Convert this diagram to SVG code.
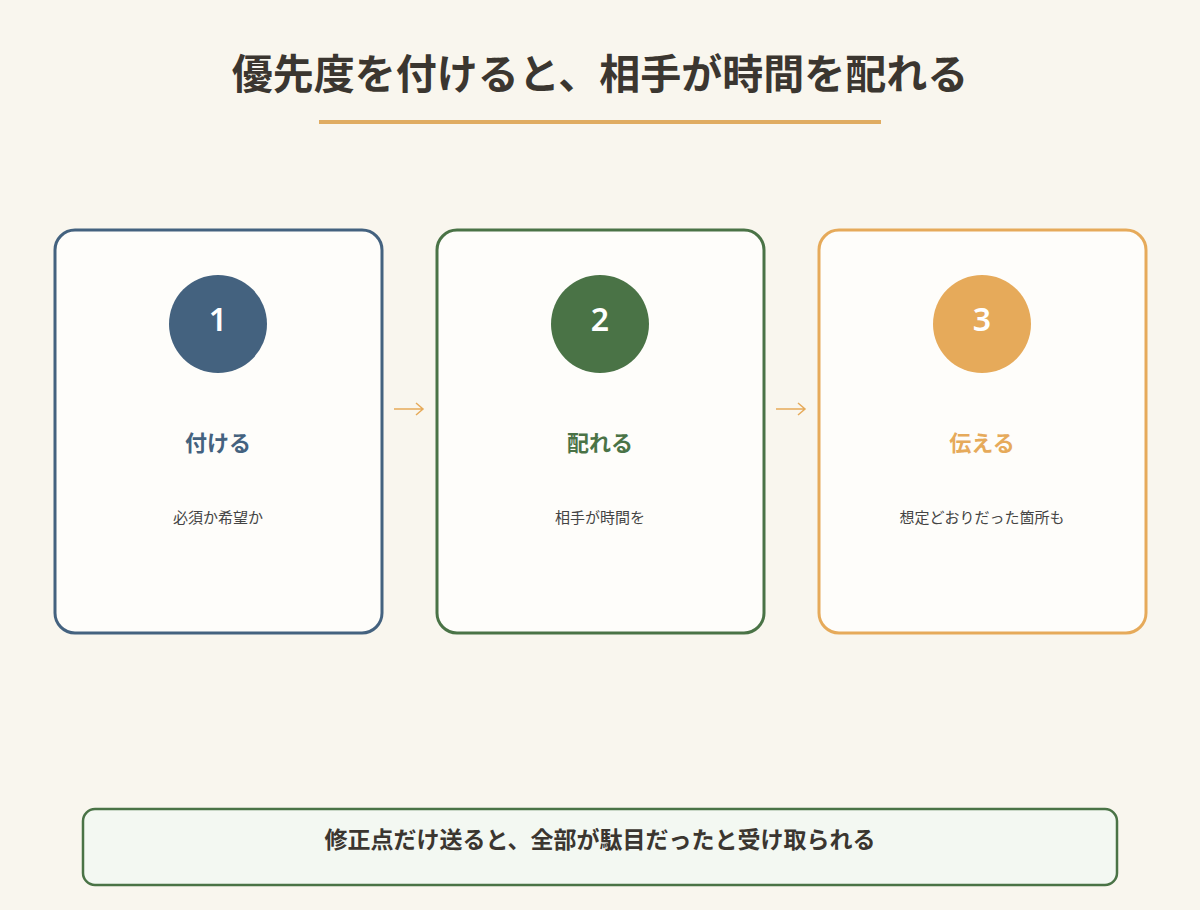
<svg xmlns="http://www.w3.org/2000/svg" width="1200" height="910" viewBox="0 0 1200 910">
<defs>
<style>
.t{font-family:"Noto Sans CJK JP","Noto Sans",sans-serif;}
.title{font-size:41px;font-weight:700;fill:#3B3630;text-anchor:middle;}
.card{fill:#FEFDFA;stroke-width:3;}
.num{font-family:"Noto Sans","Liberation Sans",sans-serif;font-size:32px;font-weight:600;fill:#FFFFFF;text-anchor:middle;}
.lbl{font-size:22px;font-weight:700;text-anchor:middle;}
.body{font-size:15px;fill:#444;text-anchor:middle;}
.arr{fill:none;stroke:#E6AA5A;stroke-width:1.5;}
</style>
</defs>
<rect width="1200" height="910" fill="#F9F6EE"/>
<g id="title">
<text class="t title" x="600" y="89">優先度を付けると、相手が時間を配れる</text>
<rect x="319" y="120" width="562" height="4" fill="#E0AC62"/>
</g>
<g id="node1">
<rect class="card" x="55" y="230" width="327" height="403" rx="20" stroke="#44627F"/>
<circle cx="218" cy="324" r="49" fill="#44627F"/>
<text class="num" x="218" y="331">1</text>
<text class="t lbl" x="218" y="451" fill="#44627F">付ける</text>
<text class="t body" x="218" y="523">必須か希望か</text>
</g>
<g id="node2">
<rect class="card" x="437" y="230" width="327" height="403" rx="20" stroke="#4A7346"/>
<circle cx="600" cy="324" r="49" fill="#4A7346"/>
<text class="num" x="600" y="331">2</text>
<text class="t lbl" x="600" y="451" fill="#4A7346">配れる</text>
<text class="t body" x="600" y="523">相手が時間を</text>
</g>
<g id="node3">
<rect class="card" x="819" y="230" width="327" height="403" rx="20" stroke="#E6AA5A"/>
<circle cx="982" cy="324" r="49" fill="#E6AA5A"/>
<text class="num" x="982" y="331">3</text>
<text class="t lbl" x="982" y="451" fill="#E6AA5A">伝える</text>
<text class="t body" x="982" y="523">想定どおりだった箇所も</text>
</g>
<g id="connectors">
<path class="arr" d="M394 409 H423 M416 403 L423 409 L416 415"/>
<path class="arr" d="M776 409 H805 M798 403 L805 409 L798 415"/>
</g>
<g id="note">
<rect x="83" y="809" width="1034" height="76" rx="12" fill="#F3F8F2" stroke="#4A7346" stroke-width="2.5"/>
<text class="t" x="600" y="848" font-size="23" font-weight="700" fill="#3B3630" text-anchor="middle">修正点だけ送ると、全部が駄目だったと受け取られる</text>
</g>
</svg>
